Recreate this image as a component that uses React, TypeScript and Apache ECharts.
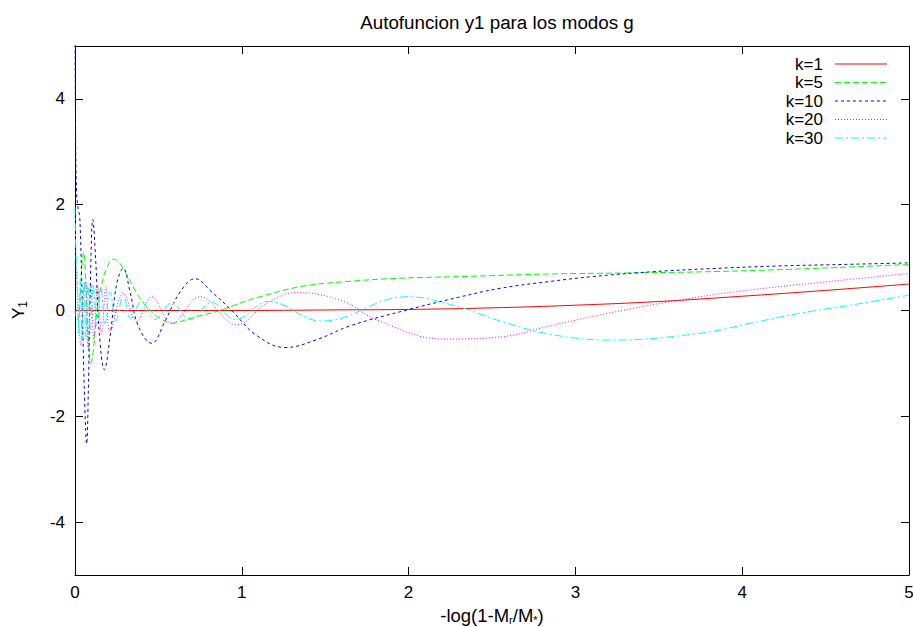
import React, { useEffect, useRef } from "react";
import * as echarts from "echarts";

const titleText = "Autofuncion y1 para los modos g";
const xTickValues = [0, 1, 2, 3, 4, 5];
const yTickValues = [-4, -2, 0, 2, 4];

const seriesNames = ["k=1", "k=5", "k=10", "k=20", "k=30"];
const seriesColors = ["#ff0000", "#00ff00", "#0000ff", "#ff00ff", "#00ffff"];
const seriesDashes: (number[] | string)[] = ["solid", [6, 3], [3, 3], [1, 2], [8, 3, 2, 3]];

const k1X = [0, 0.5, 1.0, 1.5, 2.0, 2.5, 3.0, 3.5, 4.0, 4.5, 5.0];
const k1Y = [0, 0, 0.0, 0.01, 0.02, 0.05, 0.1, 0.17, 0.27, 0.38, 0.5];

const k5X = [0, 0.012, 0.025, 0.04, 0.052, 0.065, 0.08, 0.095, 0.11, 0.135, 0.16, 0.19, 0.23, 0.27, 0.37, 0.43, 0.51, 0.59, 0.67, 0.75, 0.87, 1.0, 1.11, 1.35, 1.6, 1.95, 2.3, 2.85, 3.3, 3.75, 4.3, 5.0];
const k5Y = [0, -0.18, -0.05, 0.8, 1.1, 0.5, -0.56, -1.0, -0.75, 0.1, 0.5, 0.8, 0.97, 0.89, 0.33, 0.07, -0.15, -0.24, -0.17, -0.1, 0.0, 0.15, 0.26, 0.45, 0.54, 0.61, 0.64, 0.69, 0.71, 0.73, 0.78, 0.87];

const k10X = [0, 0.004, 0.01, 0.02, 0.028, 0.04, 0.055, 0.07, 0.08, 0.09, 0.107, 0.125, 0.145, 0.176, 0.21, 0.25, 0.29, 0.33, 0.38, 0.46, 0.54, 0.63, 0.72, 0.82, 0.94, 1.08, 1.26, 1.45, 1.65, 1.99, 2.3, 2.55, 2.85, 3.1, 3.45, 3.8, 4.2, 4.6, 5.0];
const k10Y = [5.6, 3.2, 2.2, 1.9, 1.8, 0.6, -1.4, -2.52, -1.5, 0.2, 1.72, 0.9, -0.4, -1.12, -0.5, 0.5, 0.8, 0.35, -0.3, -0.62, -0.2, 0.35, 0.6, 0.35, 0.0, -0.45, -0.7, -0.55, -0.29, 0.01, 0.25, 0.42, 0.55, 0.64, 0.73, 0.79, 0.84, 0.87, 0.9];

const k20X = [0, 0.008, 0.02, 0.035, 0.05, 0.063, 0.078, 0.095, 0.113, 0.135, 0.16, 0.185, 0.21, 0.29, 0.37, 0.46, 0.58, 0.75, 0.97, 1.15, 1.33, 1.61, 1.81, 2.21, 2.55, 2.85, 3.2, 3.63, 4.0, 4.5, 5.0];
const k20Y = [0.9, 0.75, -0.1, -0.65, 0.3, 0.55, -0.7, 0.5, -0.55, 0.48, -0.45, 0.45, -0.4, 0.33, -0.2, 0.26, -0.24, 0.26, -0.27, 0.14, 0.34, 0.17, -0.18, -0.54, -0.5, -0.29, -0.05, 0.2, 0.37, 0.54, 0.7];

const k30X = [0, 0.006, 0.014, 0.022, 0.032, 0.043, 0.054, 0.066, 0.078, 0.091, 0.11, 0.13, 0.155, 0.18, 0.21, 0.245, 0.29, 0.335, 0.4, 0.48, 0.58, 0.69, 0.82, 0.96, 1.16, 1.48, 1.99, 2.3, 2.55, 2.85, 3.21, 3.75, 4.05, 4.35, 4.65, 5.0];
const k30Y = [1.95, 1.05, 0.55, -0.45, 0.6, -0.55, 0.55, -0.5, 0.52, -0.42, 0.5, -0.3, 0.42, -0.25, 0.35, -0.2, 0.28, -0.15, 0.18, -0.17, 0.14, -0.17, 0.15, -0.17, 0.17, -0.2, 0.26, 0.07, -0.2, -0.45, -0.56, -0.43, -0.24, -0.05, 0.1, 0.29];

const allX = [k1X, k5X, k10X, k20X, k30X];
const allY = [k1Y, k5Y, k10Y, k20Y, k30Y];

const FONT = "'Liberation Sans', Arial, sans-serif";

export default function App() {
  const ref = useRef<HTMLDivElement>(null);
  useEffect(() => {
    if (!ref.current) return;
    const chart = echarts.init(ref.current, null, { renderer: "svg" });
    const axisLine = { show: true, onZero: false, lineStyle: { color: "#000", width: 1 } };
    const tick = { show: true, inside: true, length: 8, lineStyle: { color: "#000", width: 1 } };
    const series = seriesNames.map((name, i) => ({
      name,
      type: "line",
      xAxisIndex: 0,
      yAxisIndex: 0,
      data: allX[i].map((x, j) => [x, allY[i][j]]),
      showSymbol: false,
      symbol: "none",
      smooth: 0.4,
      clip: true,
      lineStyle: { color: seriesColors[i], width: 1, type: seriesDashes[i] },
    }));
    const legendGraphics: any[] = [];
    seriesNames.forEach((name, i) => {
      const y = 64 + i * 18.5;
      legendGraphics.push({
        type: "text",
        x: 823,
        y,
        style: { text: name, fill: "#000", font: `17px ${FONT}`, textAlign: "right", textVerticalAlign: "middle" },
      });
      legendGraphics.push({
        type: "line",
        shape: { x1: 835, y1: y, x2: 887, y2: y },
        style: { stroke: seriesColors[i], lineWidth: 1, lineDash: seriesDashes[i] === "solid" ? null : seriesDashes[i] },
      });
    });
    chart.setOption({
      animation: false,
      backgroundColor: "#fff",
      title: {
        text: titleText,
        left: 492,
        top: 8,
        textAlign: "center",
        textStyle: { fontFamily: FONT, fontSize: 18.8, fontWeight: "normal", color: "#000" },
      },
      grid: { left: 75, right: 4, top: 46, bottom: 52, outerBoundsMode: "none", containLabel: false },
      xAxis: [
        {
          type: "value",
          position: "bottom",
          min: 0,
          max: 5,
          interval: 1,
          axisLine,
          axisTick: tick,
          splitLine: { show: false },
          axisLabel: { color: "#000", fontFamily: FONT, fontSize: 17, margin: 9 },
        },
        {
          type: "value",
          position: "top",
          min: 0,
          max: 5,
          interval: 1,
          axisLine,
          axisTick: tick,
          splitLine: { show: false },
          axisLabel: { show: false },
        },
      ],
      yAxis: [
        {
          type: "value",
          position: "left",
          min: -5,
          max: 5,
          axisLine,
          axisTick: { ...tick, customValues: yTickValues },
          splitLine: { show: false },
          axisLabel: { color: "#000", fontFamily: FONT, fontSize: 17, margin: 10, customValues: yTickValues },
        },
        {
          type: "value",
          position: "right",
          min: -5,
          max: 5,
          axisLine,
          axisTick: { ...tick, customValues: yTickValues },
          splitLine: { show: false },
          axisLabel: { show: false, customValues: yTickValues },
        },
      ],
      series,
      graphic: [
        ...legendGraphics,
        {
          type: "text",
          x: 18,
          y: 310,
          rotation: Math.PI / 2,
          style: {
            text: "{a|Y}{b|1}",
            textAlign: "center",
            textVerticalAlign: "middle",
            rich: {
              a: { fontFamily: FONT, fontSize: 17, fill: "#000" },
              b: { fontFamily: FONT, fontSize: 12, fill: "#000", padding: [10, 0, 0, 0] },
            },
          },
        },
        {
          type: "text",
          x: 492,
          y: 615,
          style: {
            text: "{a|-log(1-M}{b|r}{a|/M}{b|*}{a|)}",
            textAlign: "center",
            textVerticalAlign: "middle",
            rich: {
              a: { fontFamily: FONT, fontSize: 18.5, fill: "#000" },
              b: { fontFamily: FONT, fontSize: 11, fill: "#000", padding: [9, 0, 0, 0] },
            },
          },
        },
      ],
    });
    return () => chart.dispose();
  }, []);
  return <div ref={ref} style={{ position: "fixed", left: 0, top: 0, width: 913, height: 627 }} />;
}
